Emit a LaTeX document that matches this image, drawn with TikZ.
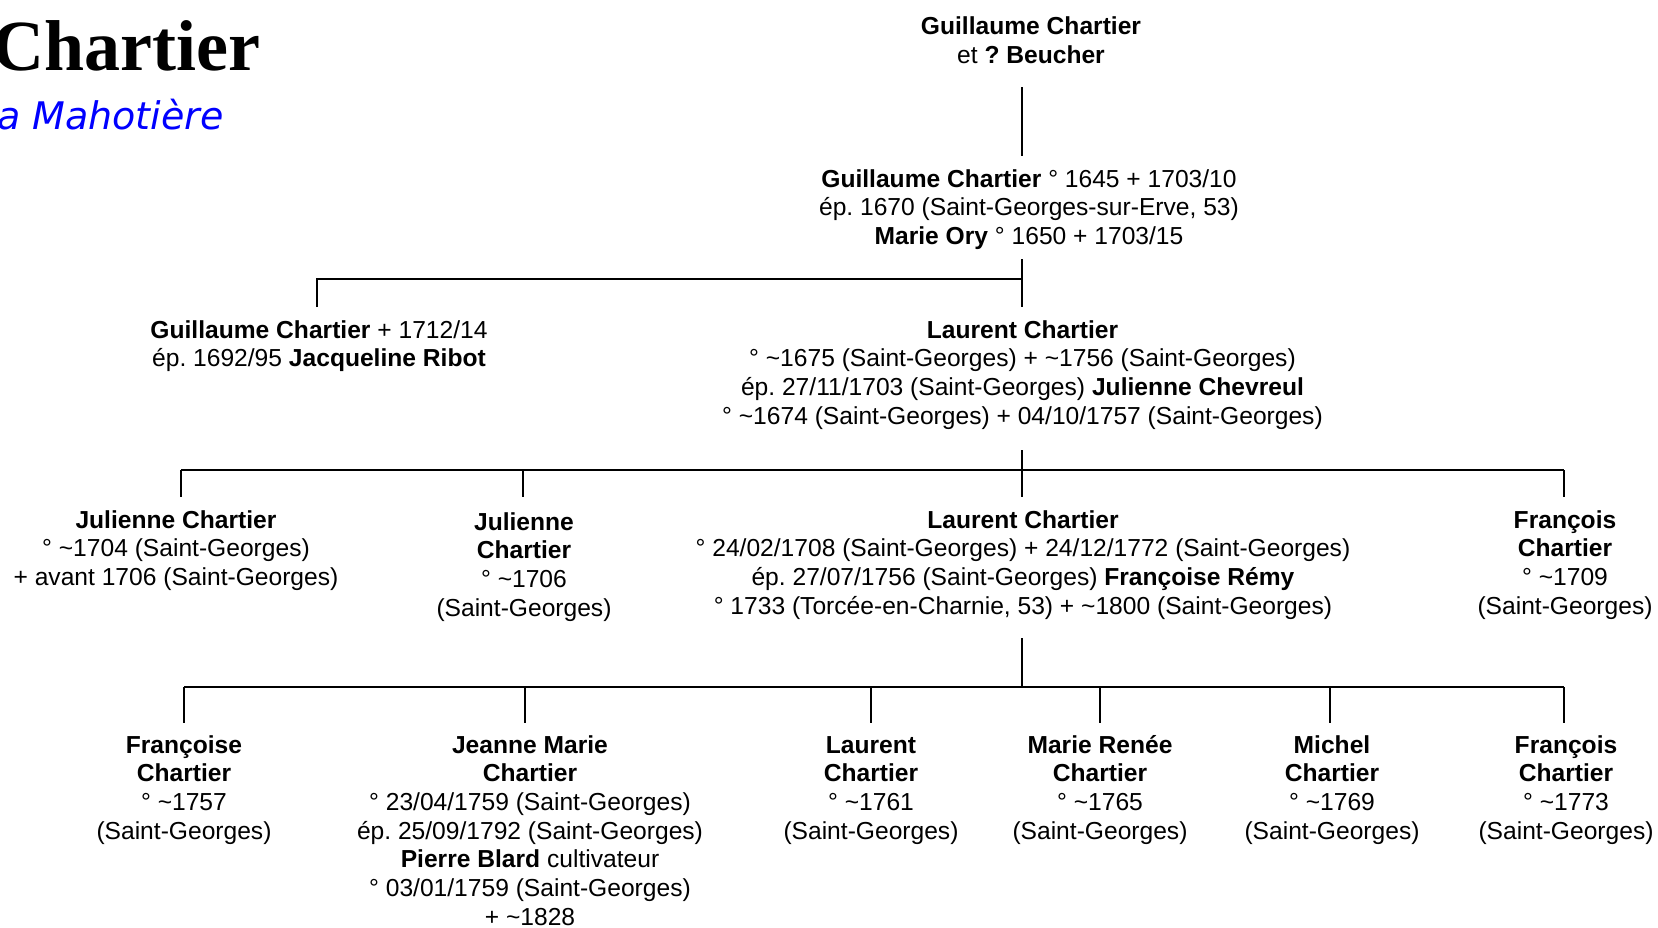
\documentclass[tikz,border=0pt]{standalone}
\usepackage{fontspec}
\setmainfont{Liberation Sans}
\newfontfamily\titlefont{Liberation Serif}
\newfontfamily\subfont{DejaVu Sans}
\definecolor{subblue}{RGB}{0,0,255}
\newcommand{\tl}{\textasciitilde}
\frenchspacing
\tikzset{
  person/.style={anchor=base, align=center, inner sep=0pt, font=\frenchspacing\fontsize{24.6}{28.7}\selectfont},
  link/.style={draw=black, line width=2.2pt}
}
\begin{document}
\begin{tikzpicture}[x=1pt,y=-1pt]
\useasboundingbox (0,0) rectangle (1658,927);
\fill[white] (0,0) rectangle (1658,927);

\node[anchor=base east, inner sep=0pt, font=\titlefont\bfseries\fontsize{72}{80}\selectfont] (title) at (261,70) {Chartier};
\node[anchor=base east, inner sep=0pt, text=subblue, font=\subfont\itshape\fontsize{38}{44}\selectfont] (sub) at (224,129) {a Mahotière};

% (anchor base = baseline of the last line)
% generation 1
\node[person, font=\frenchspacing\fontsize{24.6}{29.6}\selectfont] (g1) at (1031,63.6) {\textbf{Guillaume Chartier}\\et \textbf{? Beucher}};
% generation 2
\node[person] (g2) at (1029,244.4) {\textbf{Guillaume Chartier} ° 1645 + 1703/10\\ép. 1670 (Saint-Georges-sur-Erve, 53)\\\textbf{Marie Ory} ° 1650 + 1703/15};
% generation 3
\node[person] (g3a) at (319,366.7) {\textbf{Guillaume Chartier} + 1712/14\\ép. 1692/95 \textbf{Jacqueline Ribot}};
\node[person] (g3b) at (1022.5,424.1) {\textbf{Laurent Chartier}\\° \tl1675 (Saint-Georges) + \tl1756 (Saint-Georges)\\ép. 27/11/1703 (Saint-Georges) \textbf{Julienne Chevreul}\\° \tl1674 (Saint-Georges) + 04/10/1757 (Saint-Georges)};
% generation 4
\node[person] (g4a) at (176,585.4) {\textbf{Julienne Chartier}\\° \tl1704 (Saint-Georges)\\+ avant 1706 (Saint-Georges)};
\node[person] (g4b) at (524,616.1) {\textbf{Julienne}\\\textbf{Chartier}\\° \tl1706\\(Saint-Georges)};
\node[person] (g4c) at (1023,614.1) {\textbf{Laurent Chartier}\\° 24/02/1708 (Saint-Georges) + 24/12/1772 (Saint-Georges)\\ép. 27/07/1756 (Saint-Georges) \textbf{Françoise Rémy}\\° 1733 (Torcée-en-Charnie, 53) + \tl1800 (Saint-Georges)};
\node[person] (g4d) at (1565,614.1) {\textbf{François}\\\textbf{Chartier}\\° \tl1709\\(Saint-Georges)};
% generation 5
\node[person] (g5a) at (184,839.1) {\textbf{Françoise}\\\textbf{Chartier}\\° \tl1757\\(Saint-Georges)};
\node[person] (g5b) at (530,925.2) {\textbf{Jeanne Marie}\\\textbf{Chartier}\\° 23/04/1759 (Saint-Georges)\\ép. 25/09/1792 (Saint-Georges)\\\textbf{Pierre Blard} cultivateur\\° 03/01/1759 (Saint-Georges)\\+ \tl1828};
\node[person] (g5c) at (871,839.1) {\textbf{Laurent}\\\textbf{Chartier}\\° \tl1761\\(Saint-Georges)};
\node[person] (g5d) at (1100,839.1) {\textbf{Marie Renée}\\\textbf{Chartier}\\° \tl1765\\(Saint-Georges)};
\node[person] (g5e) at (1332,839.1) {\textbf{Michel}\\\textbf{Chartier}\\° \tl1769\\(Saint-Georges)};
\node[person] (g5f) at (1566,839.1) {\textbf{François}\\\textbf{Chartier}\\° \tl1773\\(Saint-Georges)};

% connector coordinates
\coordinate (c1a) at (1022,87);
\coordinate (c1b) at (1022,156);
\coordinate (c2a) at (1022,259);
\coordinate (c2j) at (1022,279);
\coordinate (c2b) at (1022,307);
\coordinate (c2l) at (317,279);
\coordinate (c2lb) at (317,307);
\coordinate (c3a) at (1022,450);
\coordinate (c3j) at (1022,470);
\coordinate (c3b) at (1022,497);
\coordinate (c3l) at (181,470);
\coordinate (c3r) at (1564,470);
\coordinate (c4a) at (1022,638);
\coordinate (c4j) at (1022,687);
\coordinate (c4l) at (184,687);
\coordinate (c4r) at (1564,687);

\draw[link] (c1a) -- (c1b);
\draw[link] (c2a) -- (c2b);
\draw[link] (c2lb) -- (c2l) -- (c2j);
\draw[link] (c3a) -- (c3b);
\draw[link] (c3l) -- (c3r);
\foreach \x in {181,523,1564} \draw[link] (\x,470) -- (\x,497);
\draw[link] (c4a) -- (c4j);
\draw[link] (c4l) -- (c4r);
\foreach \x in {184,525,871,1100,1330,1564} \draw[link] (\x,687) -- (\x,723);
\end{tikzpicture}
\end{document}
